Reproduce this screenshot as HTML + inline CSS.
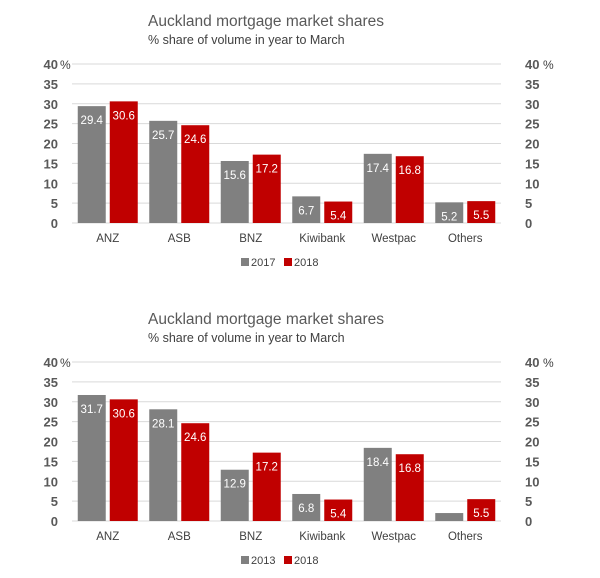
<!DOCTYPE html>
<html><head><meta charset="utf-8"><style>
body{margin:0;background:#fff;}
svg text{font-family:"Liberation Sans",sans-serif;}
</style></head><body>
<svg id="s" width="600" height="573" xmlns="http://www.w3.org/2000/svg"></svg>
<script>
const categories=["ANZ","ASB","BNZ","Kiwibank","Westpac","Others"];
const series2017=[29.4,25.7,15.6,6.7,17.4,5.2];
const series2018=[30.6,24.6,17.2,5.4,16.8,5.5];
const series2013=[31.7,28.1,12.9,6.8,18.4,2.0];
const yTicks=[0,5,10,15,20,25,30,35,40];
const charts=[
 {top:0,y0:223,y40:64,a:series2017,b:series2018,la:"2017",lb:"2018",labelA:[1,1,1,1,1,1]},
 {top:298,y0:521,y40:362,a:series2013,b:series2018,la:"2013",lb:"2018",labelA:[1,1,1,1,1,0]}
];
const s=document.getElementById('s');
const NS="http://www.w3.org/2000/svg";
function mk(t,at,txt,p){const e=document.createElementNS(NS,t);for(const k in at)e.setAttribute(k,at[k]);if(txt!=null)e.textContent=txt;(p||s).appendChild(e);return e;}
const L=72,R=501,gw=(R-L)/6;
charts.forEach((c,ci)=>{
 const g=mk('g',{});
 
 
 const y=v=>c.y0-(c.y0-c.y40)*v/40;
 let t=mk('text',{x:148,y:c.top+26,'font-size':15.5,fill:'#595959'},"Auckland mortgage market shares",g);
 
 t=mk('text',{x:148,y:c.top+44,'font-size':12.5,fill:'#404040'},"% share of volume in year to March",g);
 
 yTicks.forEach(v=>{
  const ln=mk('line',{x1:L,x2:R,y1:y(v),y2:y(v),stroke:'#d9d9d9','stroke-width':1},null,g);
  
  let lt=mk('text',{x:58,y:y(v)+5,'font-size':13,'font-weight':'bold',fill:'#595959','text-anchor':'end'},String(v),g);
  
  lt=mk('text',{x:525,y:y(v)+5,'font-size':13,'font-weight':'bold',fill:'#595959'},String(v),g);
  
 });
 let p=mk('text',{x:60,y:y(40)+5,'font-size':12,fill:'#404040'},"%",g);
 p=mk('text',{x:543,y:y(40)+5,'font-size':12,fill:'#404040'},"%",g);
 categories.forEach((cat,i)=>{
  const cx=L+gw*(i+0.5);
  [[c.a,'#808080',cx-30,c.labelA[i]],[c.b,'#c00000',cx+2,1]].forEach(([arr,col,x,lab],k)=>{
   const v=arr[i];
   const r=mk('rect',{x:x,y:y(v),width:28,height:c.y0-y(v),fill:col},null,g);
   
   
   if(lab){const dt=mk('text',{x:x+14,y:y(v)+18,'font-size':11.5,fill:'#fff','text-anchor':'middle'},v.toFixed(1),g);
    }
  });
  const ct=mk('text',{x:cx,y:c.y0+19,'font-size':11.5,fill:'#404040','text-anchor':'middle'},cat,g);
  
 });
 const ly=c.y0+43;
 let lr=mk('rect',{x:241,y:ly-8,width:8,height:8,fill:'#808080'},null,g);
 let lt=mk('text',{x:251,y:ly,'font-size':11,fill:'#404040'},c.la,g);
 lr=mk('rect',{x:284,y:ly-8,width:8,height:8,fill:'#c00000'},null,g);
 lt=mk('text',{x:294,y:ly,'font-size':11,fill:'#404040'},c.lb,g);
});
</script>
</body></html>
